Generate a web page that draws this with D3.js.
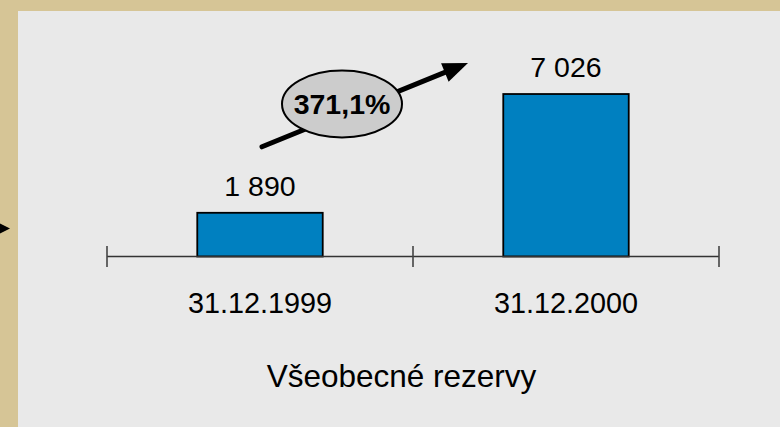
<!DOCTYPE html>
<html><head><meta charset="utf-8">
<script src="https://cdn.jsdelivr.net/npm/d3@7"></script>
<style>html,body{margin:0;padding:0;background:#d6c596;}svg{display:block;}</style>
</head><body>
<script>
const categories = ["31.12.1999", "31.12.2000"];
const values = [1890, 7026];
const valueLabels = ["1 890", "7 026"];
const growthLabel = "371,1%";
const title = "Všeobecné rezervy";

const W = 780, H = 427;
const svg = d3.select("body").append("svg").attr("width", W).attr("height", H);
svg.append("rect").attr("width", W).attr("height", H).attr("fill", "#d6c596");
svg.append("rect").attr("x", 18).attr("y", 11).attr("width", W - 18).attr("height", H - 11).attr("fill", "#e9e9e9");
// small arrow at left edge
svg.append("path").attr("d", "M0,223.5L10,228.5L0,233.5Z").attr("fill", "#000");

const font = "'Liberation Sans', Arial, Helvetica, sans-serif";
const x = d3.scaleBand().domain(categories).range([107, 719]).paddingInner(0.59).paddingOuter(0.295);
const y = d3.scaleLinear().domain([0, 8000]).range([256.5, 71.5]);

// bars
svg.selectAll("rect.bar").data(values).join("rect").attr("class", "bar")
  .attr("x", (d, i) => x(categories[i]))
  .attr("y", d => y(d))
  .attr("width", x.bandwidth())
  .attr("height", d => y(0) - y(d))
  .attr("fill", "#0080c0").attr("stroke", "#000").attr("stroke-width", 1.8);

// axis line & ticks at band boundaries
const x0 = x.range()[0], step = x.step();
svg.append("line").attr("x1", x0).attr("x2", x.range()[1]).attr("y1", y(0)).attr("y2", y(0))
  .attr("stroke", "#333").attr("stroke-width", 1.5);
d3.range(categories.length + 1).forEach(i => {
  svg.append("line").attr("x1", x0 + i * step).attr("x2", x0 + i * step)
    .attr("y1", y(0) - 10.5).attr("y2", y(0) + 10.5).attr("stroke", "#444").attr("stroke-width", 1.6);
});

// value labels
svg.selectAll("text.val").data(values).join("text").attr("class", "val")
  .attr("x", (d, i) => x(categories[i]) + x.bandwidth() / 2)
  .attr("y", d => y(d) - 16.8)
  .attr("text-anchor", "middle").attr("font-family", font).attr("font-size", 28.5).attr("fill", "#000")
  .text((d, i) => valueLabels[i]);

// category labels
svg.selectAll("text.cat").data(categories).join("text").attr("class", "cat")
  .attr("x", d => x(d) + x.bandwidth() / 2)
  .attr("y", y(0) + 56.8)
  .attr("text-anchor", "middle").attr("font-family", font).attr("font-size", 28.8).attr("fill", "#000")
  .text(d => d);

// title
svg.append("text").attr("x", 401.5).attr("y", 387.3).attr("text-anchor", "middle")
  .attr("font-family", font).attr("font-size", 31.5).attr("fill", "#000").text(title);

// growth arrow annotation
const c0 = x(categories[0]) + x.bandwidth() / 2, c1 = x(categories[1]) + x.bandwidth() / 2;
const sx = c0 + 2, sy = y(values[0]) - 66;
const tx = c1 - 98, ty = y(values[1]) - 31;
const ang = Math.atan2(ty - sy, tx - sx);
const headLen = 25, headHalf = 10;
const bx = tx - headLen * Math.cos(ang), by = ty - headLen * Math.sin(ang);
svg.append("line").attr("x1", sx).attr("y1", sy).attr("x2", bx + 2 * Math.cos(ang)).attr("y2", by + 2 * Math.sin(ang))
  .attr("stroke", "#000").attr("stroke-width", 5).attr("stroke-linecap", "round");
const px = -Math.sin(ang), py = Math.cos(ang);
svg.append("path").attr("d", `M${tx},${ty}L${bx + px * headHalf},${by + py * headHalf}L${bx - px * headHalf},${by - py * headHalf}Z`)
  .attr("fill", "#000");
const ex = 342, ey = 104;
svg.append("ellipse").attr("cx", ex).attr("cy", ey).attr("rx", 60).attr("ry", 33.5)
  .attr("fill", "#cccccc").attr("stroke", "#000").attr("stroke-width", 2);
svg.append("text").attr("x", ex).attr("y", 114).attr("text-anchor", "middle")
  .attr("font-family", font).attr("font-weight", "bold").attr("font-size", 28.5).attr("fill", "#000").text(growthLabel);
</script>
</body></html>
